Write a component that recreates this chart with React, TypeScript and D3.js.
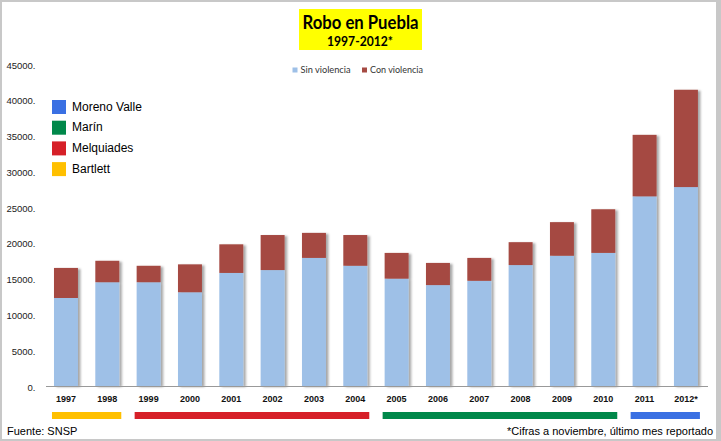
import React from 'react';
import * as d3 from 'd3';

const years = ['1997','1998','1999','2000','2001','2002','2003','2004','2005','2006','2007','2008','2009','2010','2011','2012*'];
const sinViolencia = [12300,14500,14500,13100,15800,16200,17900,16800,15000,14100,14700,16900,18200,18600,26500,27800];
const conViolencia = [4200,3000,2300,3900,4000,4900,3500,4300,3600,3100,3200,3200,4700,6100,8600,13600];
const yTicks = [0,5000,10000,15000,20000,25000,30000,35000,40000,45000];
const seriesNames = ['Sin violencia','Con violencia'];
const seriesColors = ['#9EC0E7','#A54A43'];
const governors = ['Moreno Valle','Marín','Melquiades','Bartlett'];
const governorColors = ['#3A70E3','#00884A','#D62028','#FFC000'];
const governorFrom = ['2011','2005','1999','1997'];
const governorTo = ['2012*','2010','2004','1998'];

const W = 721, H = 441;

export default function App() {
  const x = d3.scaleBand<string>().domain(years).range([45.3, 706.6]).paddingInner(0.42).paddingOuter(0.21);
  const y = d3.scaleLinear().domain([0, 45000]).range([386, 64]);
  const bw = x.bandwidth();
  const rows = years.map((yr, i) => ({ yr, sin: sinViolencia[i], con: conViolencia[i] }));
  const stack = d3.stack<any>().keys(['sin', 'con'])(rows);
  const sans = '"Liberation Sans", Arial, sans-serif';
  const cal = 'Lato, "Liberation Sans", sans-serif';

  return (
    <svg width={W} height={H} style={{ position: 'fixed', left: 0, top: 0 }}>
      <defs>
        <filter id="sh" x="-20%" y="-5%" width="150%" height="110%">
          <feDropShadow dx="2.5" dy="1" stdDeviation="1" floodColor="#000" floodOpacity="0.35" />
        </filter>
      </defs>
      <rect x={0} y={0} width={W} height={H} fill="#C8C8C8" />
      <rect x={2} y={2} width={714} height={437} fill="#FFFFFF" />

      {/* title */}
      <rect x={299} y={9} width={123} height={41} fill="#FFFF00" />
      <text x={360.5} y={28.5} textAnchor="middle" fontFamily={cal} fontWeight="bold" fontSize={18} textLength={116} lengthAdjust="spacingAndGlyphs" fill="#000">Robo en Puebla</text>
      <text x={360} y={45.5} textAnchor="middle" fontFamily={cal} fontWeight="bold" fontSize={12.5} textLength={66} lengthAdjust="spacingAndGlyphs" fill="#000">1997-2012*</text>

      {/* series legend */}
      {seriesNames.map((s, i) => {
        const lx = i === 0 ? 292.5 : 362;
        return (
          <g key={s}>
            <rect x={lx} y={67.5} width={5} height={5} fill={seriesColors[i]} />
            <text x={lx + 8} y={70.5} dominantBaseline="middle" fontFamily={cal} fontSize={9.5} textLength={i === 0 ? 50 : 53} lengthAdjust="spacingAndGlyphs" fill="#333">{s}</text>
          </g>
        );
      })}

      {/* y tick labels */}
      {yTicks.map(t => (
        <text key={t} x={35.5} y={y(t) + 2} textAnchor="end" dominantBaseline="middle" fontFamily={sans} fontSize={9.5} fill="#222">{`${t}.`}</text>
      ))}

      {/* bars */}
      <g filter="url(#sh)">
        {stack.map((layer, li) => (
          <g key={li}>
            {layer.map((d, i) => (
              <rect key={i} x={x(years[i])} y={y(d[1])} width={bw} height={y(d[0]) - y(d[1])} fill={seriesColors[li]} />
            ))}
          </g>
        ))}
      </g>

      {/* x axis */}
      <line x1={46} x2={708} y1={386.5} y2={386.5} stroke="#999" strokeWidth={1.2} />
      {years.map(yr => (
        <text key={yr} x={(x(yr) as number) + bw / 2} y={400} textAnchor="middle" dominantBaseline="middle" fontFamily={sans} fontWeight="bold" fontSize={9} fill="#111">{yr}</text>
      ))}

      {/* governor strips */}
      {governors.map((g, i) => {
        const x0 = (x(governorFrom[i]) as number) - 2;
        const x1 = (x(governorTo[i]) as number) + bw + 2;
        return <rect key={g} x={x0} y={412} width={x1 - x0} height={7} fill={governorColors[i]} />;
      })}

      {/* governor legend */}
      {governors.map((g, i) => (
        <g key={g}>
          <rect x={52} y={100 + i * 20.7} width={14} height={14} fill={governorColors[i]} />
          <text x={72} y={107.5 + i * 20.7} dominantBaseline="middle" fontFamily={sans} fontSize={12} fill="#000">{g}</text>
        </g>
      ))}

      {/* footer */}
      <text x={7} y={432} dominantBaseline="middle" fontFamily={sans} fontSize={11} fill="#000">Fuente: SNSP</text>
      <text x={713} y={432} textAnchor="end" dominantBaseline="middle" fontFamily={sans} fontSize={11} fill="#000">*Cifras a noviembre, último mes reportado</text>
    </svg>
  );
}
